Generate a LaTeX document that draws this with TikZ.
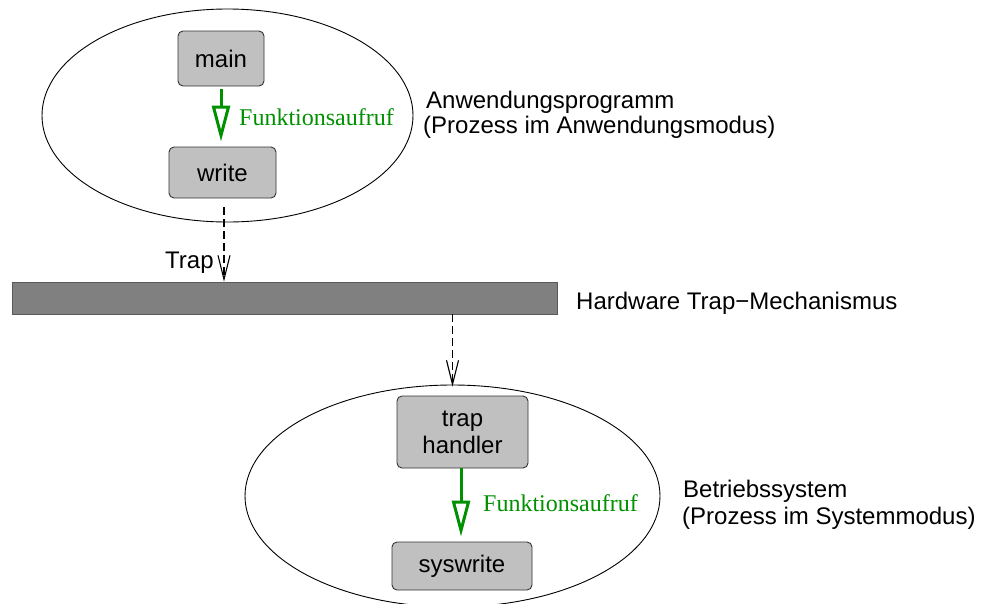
\documentclass[tikz,border=0pt]{standalone}
\usepackage{fontspec}
\setmainfont{Liberation Serif}
\setsansfont{Liberation Sans}
\usetikzlibrary{arrows.meta,shapes.geometric}
\definecolor{callgreen}{RGB}{0,144,0}
\definecolor{boxgray}{RGB}{192,192,192}
\definecolor{bargray}{RGB}{128,128,128}
\begin{document}
\begin{tikzpicture}[x=1pt,y=-1pt,
  sans/.style={font=\sffamily\fontsize{24}{27}\selectfont},
  procbox/.style={draw=black!80, line width=0.9pt, fill=boxgray, rounded corners=5pt,
    inner sep=0pt, align=center, sans},
  space/.style={draw, ellipse, line width=0.9pt, inner sep=0pt},
  lbl/.style={sans, inner sep=0pt, anchor=base west},
  calltext/.style={font=\rmfamily\fontsize{24}{28}\selectfont, text=callgreen,
    inner sep=0pt, anchor=base west},
  call/.style={draw=callgreen, line width=3pt, -{Triangle[open, length=36pt, width=18pt]}},
  trap/.style={line width=1.1pt, dash pattern=on 8pt off 4pt,
    -{Straight Barb[length=24pt, width=12pt]}}]
\useasboundingbox (0,0) rectangle (984,603);
\fill[white] (0,0) rectangle (984,603);
\clip (0,0) rectangle (984,603);

% address spaces
\node[space, minimum width=371pt, minimum height=213pt] (user) at (227.5,115.5) {};
\node[space, minimum width=415pt, minimum height=222pt] (kernel) at (452.5,496) {};

% routines
\node[procbox, minimum width=86pt, minimum height=55pt] (main) at (221,58.5) {main};
\node[procbox, minimum width=107pt, minimum height=51pt] (write) at (222.5,172.5) {write};
\node[procbox, minimum width=131pt, minimum height=72pt] (handler) at (462.5,432) {trap\\handler};
\node[procbox, minimum width=140pt, minimum height=48pt] (syswrite) at (462,566) {syswrite};

% hardware trap layer
\node[draw=black!65, line width=0.8pt, fill=bargray, minimum width=545pt, minimum height=32pt,
  inner sep=0pt] (bar) at (284.5,298) {};

% calls
\draw[call] ([yshift=-3pt]main.south) -- ([yshift=5pt]main.south |- write.north);
\draw[call] ([xshift=-1.5pt]handler.south) -- ([xshift=-1.5pt,yshift=5pt]handler.south |- syswrite.north);

% traps
\draw[trap] ([xshift=1.5pt,yshift=-9pt]write.south) -- ([xshift=1.5pt]write.south |- bar.north);
\draw[trap] (kernel.north |- bar.south) -- ([yshift=-2pt]kernel.north);

% labels
\node[lbl] (traplbl) at (165,268) {Trap};
\node[lbl] (userlbl) at (426,108) {Anwendungsprogramm};
\node[lbl] (usermode) at (423,133) {(Prozess im Anwendungsmodus)};
\node[lbl] (barlbl) at (576,309) {Hardware Trap−Mechanismus};
\node[lbl] (oslbl) at (683,497) {Betriebssystem};
\node[lbl] (osmode) at (682,524) {(Prozess im Systemmodus)};
\node[calltext] (calllbl1) at (239,125) {Funktionsaufruf};
\node[calltext] (calllbl2) at (483,511) {Funktionsaufruf};
\end{tikzpicture}
\end{document}
